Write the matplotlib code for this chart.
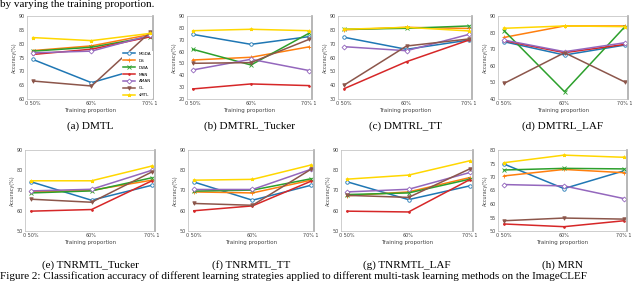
import matplotlib
matplotlib.use("Agg")
import matplotlib.pyplot as plt

# accuracy (%) per strategy at training proportions 50%, 60%, 70%
strategies = ["MGDA", "DS", "DWA", "MAN", "AMAN", "GL", "sMTL"]
tick_labels = ["0 50%", "60%", "70% 1"]
panel_names = ["(a) DMTL", "(b) DMTRL_Tucker", "(c) DMTRL_TT", "(d) DMTRL_LAF",
               "(e) TNRMTL_Tucker", "(f) TNRMTL_TT", "(g) TNRMTL_LAF", "(h) MRN"]

dmtl = [[74.3, 65.9, 72.0], [77.5, 79.2, 83.3], [77.3, 78.7, 82.5], [76.1, 78.0, 82.5],
        [76.7, 77.3, 83.0], [66.5, 64.7, 84.1], [82.2, 81.1, 83.7]]
dmtrl_tucker = [[74.5, 66.1, 72.6], [52.9, 55.2, 64.0], [61.9, 48.7, 75.5], [28.5, 32.7, 31.3],
                [44.5, 53.5, 44.0], [50.1, 50.7, 70.3], [77.6, 78.8, 77.6]]
dmtrl_tt = [[74.6, 65.9, 72.6], [80.0, 81.8, 81.0], [80.4, 81.1, 82.8], [37.5, 57.0, 72.6],
            [67.8, 64.9, 76.7], [40.1, 68.3, 73.4], [80.4, 81.8, 79.2]]
dmtrl_laf = [[74.5, 66.5, 72.5], [77.1, 84.0, 84.0], [81.2, 44.4, 83.6], [75.1, 67.9, 72.9],
             [75.5, 68.5, 73.9], [49.4, 67.9, 50.2], [82.6, 84.0, 83.6]]
tnrmtl_tucker = [[74.3, 65.2, 72.6], [69.3, 70.1, 75.1], [68.8, 69.8, 76.3], [59.8, 60.6, 74.8],
                 [69.8, 70.6, 80.0], [65.7, 64.2, 79.2], [74.8, 74.8, 82.1]]
tnrmtl_tt = [[74.2, 65.2, 72.6], [69.3, 68.8, 75.1], [69.7, 70.2, 75.8], [60.0, 62.4, 74.6],
             [70.5, 70.5, 80.5], [63.6, 62.7, 80.5], [75.1, 75.5, 82.6]]
tnrmtl_laf = [[74.3, 65.5, 72.3], [67.4, 69.3, 76.4], [68.0, 68.8, 75.6], [59.8, 59.4, 75.4],
              [69.3, 70.6, 78.9], [67.6, 66.6, 80.7], [75.6, 77.6, 84.7]]
mrn = [[74.8, 65.7, 72.3], [70.4, 72.8, 71.6], [72.6, 73.2, 73.0], [52.6, 51.6, 53.8],
       [67.2, 66.7, 62.0], [53.8, 54.8, 54.4], [75.3, 78.1, 77.3]]
panel_data = [dmtl, dmtrl_tucker, dmtrl_tt, dmtrl_laf, tnrmtl_tucker, tnrmtl_tt, tnrmtl_laf, mrn]
y_ranges = [(60, 90), (20, 90), (30, 90), (40, 90), (50, 90), (50, 90), (50, 90), (50, 80)]

colors = ["#1f77b4", "#ff7f0e", "#2ca02c", "#d62728", "#9467bd", "#8c564b", "#ffd700"]
markers = ["o", "+", "x", ".", "D", "v", "*"]

W, H = 640, 281
fig = plt.figure(figsize=(6.4, 2.81), dpi=100)

# axes boxes in pixels: left, right, top, bottom
boxes = [(27, 153, 16, 99), (187, 312, 16, 99), (338, 472, 16, 99), (498, 628, 16, 99),
         (25, 155, 150, 231), (188, 314, 150, 231), (341, 473, 150, 231), (498, 627, 150, 231)]

for i, (l, r, t, b) in enumerate(boxes):
    ax = fig.add_axes([l / W, 1 - b / H, (r - l) / W, (b - t) / H])
    x = [0, 1, 2]
    for j, name in enumerate(strategies):
        face = "white" if markers[j] in ("o", "D") else colors[j]
        ax.plot(x, panel_data[i][j], color=colors[j], marker=markers[j], markersize=2.5,
                markerfacecolor=face, markeredgewidth=0.6, linewidth=1.1, label=name)
    lo, hi = y_ranges[i]
    ax.set_ylim(lo, hi)
    step = 5 if hi - lo <= 40 and i not in (4, 5, 6) else 10
    ax.set_yticks(range(lo, hi + 1, step))
    ax.set_xlim(-0.1, 2.05)
    ax.set_xticks(x)
    ax.set_xticklabels(tick_labels)
    ax.tick_params(labelsize=3.5, length=0, pad=1.5, colors="#444444")
    ax.set_ylabel("Accuracy(%)", fontsize=3.5, labelpad=1.5, color="#444444")
    ax.set_xlabel("Training proportion", fontsize=4, labelpad=1.5, color="#444444")
    for s in ["top", "left", "bottom"]:
        ax.spines[s].set_color("#bbbbbb")
        ax.spines[s].set_linewidth(0.5)
    ax.spines["right"].set_color("#aaaaaa")
    ax.spines["right"].set_linewidth(1.2)
    cy = 126 if i < 4 else 265
    fig.text((l + r) / 2 / W, 1 - cy / H, panel_names[i], fontsize=8,
             family="Liberation Serif", ha="center", va="center")
    if i == 0:
        ax.legend(loc="lower right", fontsize=3, frameon=True, framealpha=1,
                  edgecolor="none", borderpad=0.3, labelspacing=0.7,
                  handlelength=3, borderaxespad=0.1)

fig.text(0.0, 1.0, "by varying the training proportion.", fontsize=8,
         family="Liberation Serif", ha="left", va="top")
fig.text(0.0, 0.0, "Figure 2: Classification accuracy of different learning strategies applied to different multi-task learning methods on the ImageCLEF",
         fontsize=8, family="Liberation Serif", ha="left", va="bottom")

fig.savefig("out.png", dpi=100)
